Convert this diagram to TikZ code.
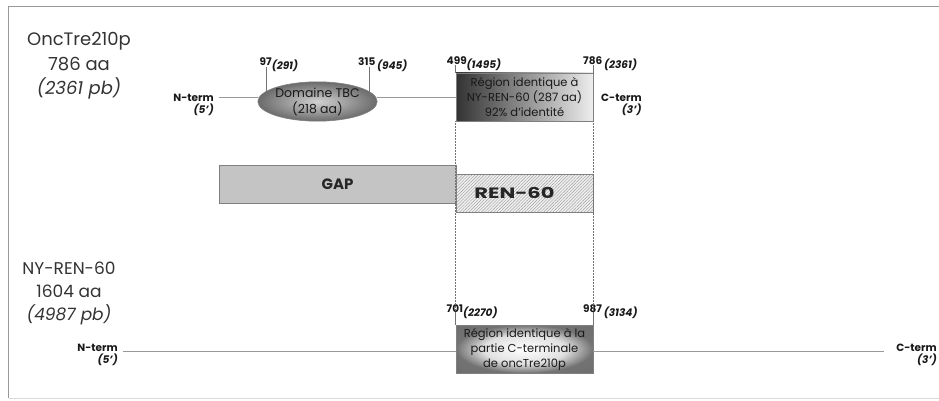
\documentclass[tikz,border=0pt]{standalone}
\usepackage{fontspec}
\setmainfont{Poppins}
\usetikzlibrary{patterns.meta,shapes.geometric}
\pgfdeclareradialshading{boxthree}{\pgfpoint{0bp}{0bp}}{color(0bp)=(white); color(15bp)=(black!12); color(25bp)=(black!55); color(50bp)=(black!60)}
\begin{document}
\begin{tikzpicture}[x=1pt,y=-1pt,
  ttl/.style={align=center, font=\fontsize{18}{24.5}\selectfont, text=black!80, inner sep=0},
  lbl/.style={font=\fontsize{10.5}{12}\selectfont\bfseries, align=right, inner sep=0, text=black!90},
  num/.style={anchor=base west, inner sep=0, font=\fontsize{10.5}{12}\selectfont\bfseries, text=black!90},
  boxtxt/.style={align=center, font=\fontsize{11.5}{15}\selectfont, text=black!90, inner sep=0},
  shbox/.style={draw=black!50, line width=0.6pt},
  tick/.style={draw=black!55, line width=0.6pt},
  mline/.style={draw=black!40, line width=0.8pt},
  dotl/.style={draw=black!55, densely dotted, line width=0.5pt},
  bigtxt/.style={font=\fontsize{15}{17}\selectfont\bfseries, text=black!85}
]
\useasboundingbox (0,0) rectangle (939,401);
% frame
\draw[black!40, line width=0.8pt] (939,6) -- (8.5,6) -- (8.5,398);
\draw[black!15, line width=0.8pt] (8.5,398) -- (939,398);

% titles
\node[ttl] (tA) at (79,66) {OncTre210p\\786 aa\\\textit{(2361 pb)}};
\node[ttl, font=\fontsize{17}{23}\selectfont] (tB) at (69,293) {NY-REN-60\\1604 aa\\\textit{(4987 pb)}};

% top protein
\node[lbl, anchor=east] (nA) at (214,105) {N-term\\\textit{(5')}};
\node[lbl, anchor=west] (cA) at (601,105) {C-term\\\textit{(3')}};
\coordinate (lA) at (219,97);
\node[ellipse, draw=black!50, line width=0.6pt, minimum width=105, minimum height=39, inner color=black!18, outer color=black!58, boxtxt, font=\fontsize{12.5}{16}\selectfont] (ell) at (317.5,101.5) {Domaine TBC\\(218 aa)};
\node[shbox, minimum width=137, minimum height=48, left color=black!80, right color=black!7, boxtxt] (b1) at (524.5,97) {Région identique à\\NY-REN-60 (287 aa)\\92\% d'identité};
\draw[mline] (lA) -- (ell.west |- lA);
\draw[mline] (ell.east |- lA) -- (b1.west);

% ticks top
\coordinate (t97) at (266,67);
\coordinate (t315) at (369,67);
\draw[tick] (t97) -- (t97 |- lA);
\draw[tick] (t315) -- (t315 |- lA);
\draw[tick] (b1.north west) -- ++(0,-8);
\draw[tick] (b1.north east) -- ++(0,-8);
\node[num] (n97) at (259.5,65.5) {97\raisebox{-4pt}{\textit{(291)}}};
\node[num] (n315) at (358,65.5) {315\,\raisebox{-4pt}{\textit{(945)}}};
\node[num] (n499) at (446.5,64.5) {499\raisebox{-4pt}{\textit{(1495)}}};
\node[num] (n786) at (583,64.5) {786\,\raisebox{-4pt}{\textit{(2361)}}};

% middle
\node[shbox, minimum width=237, minimum height=38, fill=black!23, bigtxt] (gap) at (337.5,184) {GAP};
\node[shbox, minimum width=137, minimum height=38, preaction={fill=black!6}, pattern={Lines[angle=45,distance=2.2pt,line width=0.45pt]}, pattern color=black!38, bigtxt, text depth=-3pt] (ren) at (524.5,193) {\hspace*{-20pt}\scalebox{1.4}[1]{REN-60}};

% bottom protein
\node[shbox, minimum width=137, minimum height=48, shading=boxthree, boxtxt] (b3) at (524.5,349) {Région identique à la\\partie C-terminale\\de oncTre210p};
\node[lbl, anchor=east] (nB) at (118,355) {N-term\\\textit{(5')}};
\node[lbl, anchor=east] (cB) at (937,355) {C-term\\\textit{(3')}};
\coordinate (lB1) at (123,351);
\coordinate (lB2) at (884,351);
\draw[mline] (lB1) -- (b3.west |- lB1);
\draw[mline] (b3.east |- lB1) -- (lB2);
\draw[tick] (b3.north west) -- ++(0,-12);
\draw[tick] (b3.north east) -- ++(0,-12);
\node[num] (n701) at (446.5,312.5) {701\raisebox{-4pt}{\textit{(2270)}}};
\node[num] (n987) at (583,312.5) {987\,\raisebox{-4pt}{\textit{(3134)}}};

% dotted guides
\draw[dotl] (b1.south west) -- (b3.north west);
\draw[dotl] (b1.south east) -- (b3.north east);
\end{tikzpicture}
\end{document}
